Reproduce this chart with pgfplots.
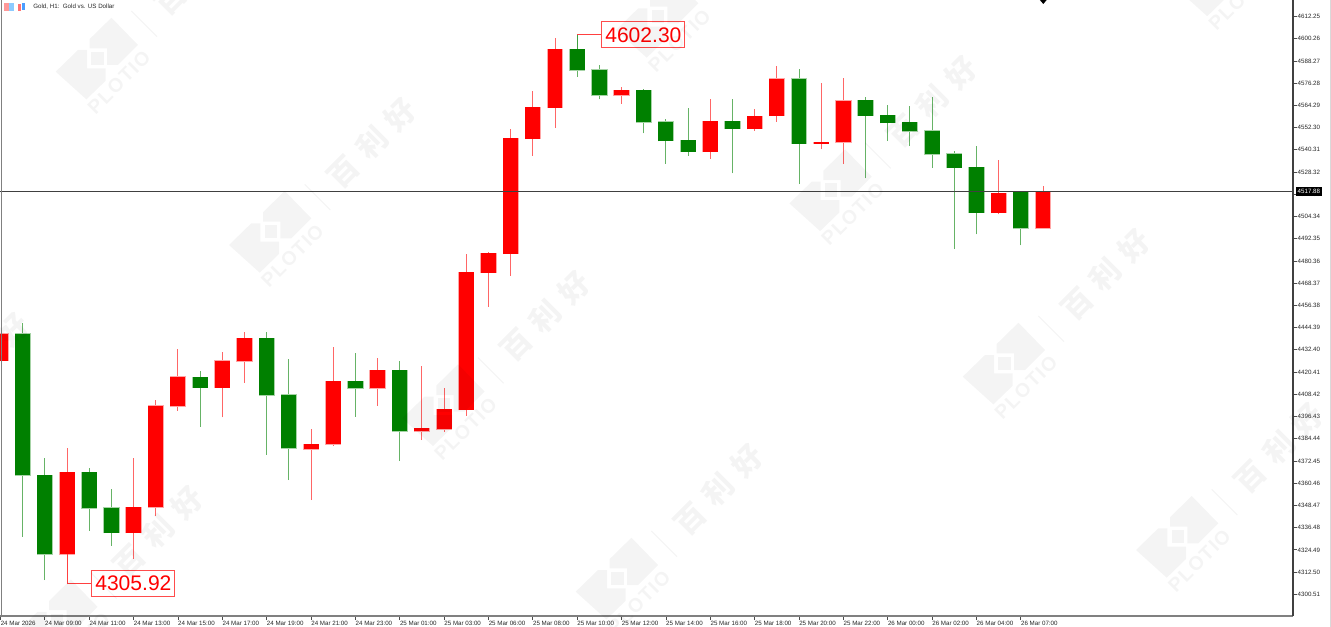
\documentclass[border=0pt]{standalone}
\usepackage{fontspec}
\usepackage{pgfplots}
\usepackage{pgfplotstable}
\pgfplotsset{compat=1.18}
\setmainfont{Liberation Sans}
\newfontfamily\cjk{Noto Sans CJK SC}
\newfontfamily\wmfont[LetterSpace=7]{Liberation Sans}

\definecolor{upc}{RGB}{255,0,0}
\definecolor{dnc}{RGB}{0,128,0}
\definecolor{wmline}{RGB}{64,64,64}

% hourly candles, x = bar number, columns = body top, body bottom, high, low
\pgfplotstableread{
i top bot high low
-1 4441.12 4426.55 4441.12 4426.55
2 4366.34 4322.11 4379.29 4305.92
5 4347.62 4333.60 4374.22 4319.73
6 4402.27 4347.46 4405.35 4342.93
7 4417.92 4401.95 4432.86 4399.58
9 4426.55 4411.99 4431.08 4396.02
10 4438.64 4426.23 4441.87 4414.68
13 4381.61 4378.75 4389.97 4351.40
14 4415.60 4381.45 4433.78 4380.69
16 4421.37 4411.66 4427.85 4402.27
18 4390.08 4388.46 4423.53 4383.77
19 4400.33 4389.54 4411.66 4388.25
20 4474.41 4399.95 4484.12 4396.88
21 4484.49 4474.03 4485.20 4455.69
22 4546.70 4484.12 4551.55 4472.25
23 4563.42 4546.16 4572.06 4537.15
24 4594.71 4563.05 4600.81 4552.09
27 4572.43 4569.74 4574.05 4565.20
31 4555.87 4539.15 4567.58 4535.53
33 4558.57 4551.55 4562.34 4550.64
34 4578.69 4558.57 4585.54 4555.49
36 4544.38 4543.62 4576.21 4540.60
37 4566.82 4544.38 4579.07 4532.67
44 4517.03 4506.24 4534.83 4505.54
46 4517.88 4497.98 4520.80 4497.98
}\upbars
\pgfplotstableread{
i top bot high low
0 4441.12 4364.73 4446.73 4331.60
1 4364.73 4322.11 4374.22 4308.24
3 4366.34 4346.92 4368.66 4334.84
4 4347.25 4333.60 4357.33 4326.74
8 4417.60 4411.99 4421.00 4390.95
11 4438.64 4407.89 4442.20 4375.84
12 4408.21 4379.29 4427.63 4362.19
15 4415.60 4411.66 4430.71 4396.34
17 4421.37 4388.46 4426.55 4372.44
25 4594.71 4583.22 4602.30 4579.61
26 4583.55 4569.74 4586.08 4567.58
28 4572.43 4555.17 4573.13 4549.23
29 4555.49 4545.08 4556.79 4532.83
30 4545.46 4539.15 4563.05 4536.99
32 4555.87 4551.55 4567.58 4527.65
35 4578.69 4543.73 4583.76 4521.88
38 4567.20 4558.57 4568.66 4524.96
39 4558.95 4554.79 4564.50 4545.08
40 4555.17 4550.31 4563.96 4542.38
41 4550.64 4537.91 4568.98 4530.51
42 4538.23 4530.51 4539.52 4486.81
43 4530.89 4506.24 4542.22 4494.75
45 4517.40 4497.98 4517.94 4488.81
}\dnbars

% wick, pale rim, body
\newcommand\candles[2]{%
  \addplot[draw=none,no markers,forget plot,error bars/.cd,y dir=plus,y explicit,error mark=none,
    error bar style={draw=#2!60,line width=0.75pt}]
    table[x=i,y=low,y error expr=\thisrow{high}-\thisrow{low}] {#1};
  \addplot[draw=none,no markers,forget plot,error bars/.cd,y dir=plus,y explicit,error mark=none,
    error bar style={draw=#2!35,line width=12.2pt}]
    table[x=i,y expr=\thisrow{bot}-0.25,y error expr=\thisrow{top}-\thisrow{bot}+0.5] {#1};
  \addplot[draw=none,no markers,forget plot,error bars/.cd,y dir=plus,y explicit,error mark=none,
    error bar style={draw=#2,line width=11.2pt}]
    table[x=i,y=bot,y error expr=\thisrow{top}-\thisrow{bot}] {#1};
}

% watermark, #1 #2 = left corner of the logo in pixels
\newcommand\wm[2]{%
  \begin{scope}[shift={(#1,#2)},opacity=0.045]
    \fill (0,0)--(22.3,-21.7)--(31.3,-21.7)--(31.3,-3.3)--(50,-3.3)--(50,9)--(30.7,27.7)--cycle;
    \fill (55.7,-54)--(82.3,-26.7)--(62.3,-6.7)--(51.3,-6.7)--(51.3,-23.3)--(34,-23.3)--(34,-32.7)--cycle;
    \fill (35.7,-20) rectangle (48,-6.7);
    \draw[line width=0.75pt] (75.7,-60.7)--(101.3,-35);
    \node[rotate=45,inner sep=0] at (63.3,10.7) {\fontsize{14.6}{15}\wmfont\bfseries PLOTIO};
    \node[rotate=45,inner sep=0] at (142.7,-101.7) {\fontsize{22.5}{23}\cjk\bfseries 百\kern8pt 利\kern8pt 好};
  \end{scope}%
}

\begin{document}
\begin{tikzpicture}
\useasboundingbox (0,0) rectangle (998.25pt,-470.25pt);
\begin{axis}[
  at={(0pt,-462pt)},anchor=south west,
  scale only axis,width=969.75pt,height=462pt,
  xmin=-1.0234,xmax=57.272,ymin=4288.82,ymax=4621.15,
  axis x line=bottom,axis y line=right,
  x axis line style={-,draw=black!50,line width=1pt},
  y axis line style={-,draw=black!75,line width=1pt},
  tick style={black!70,line width=0.6pt},
  major tick length=3pt,tick align=outside,
  xtick={-1,1,...,45},
  xticklabels={24 Mar 2026,24 Mar 09:00,24 Mar 11:00,24 Mar 13:00,24 Mar 15:00,24 Mar 17:00,24 Mar 19:00,24 Mar 21:00,24 Mar 23:00,25 Mar 01:00,25 Mar 03:00,25 Mar 06:00,25 Mar 08:00,25 Mar 10:00,25 Mar 12:00,25 Mar 14:00,25 Mar 16:00,25 Mar 18:00,25 Mar 20:00,25 Mar 22:00,26 Mar 00:00,26 Mar 02:00,26 Mar 04:00,26 Mar 07:00},
  xticklabel style={anchor=north west,inner sep=0pt,yshift=-0.3pt,font=\fontsize{4.65}{5}\selectfont,text=black!85},
  ytick={4300.51,4312.50,4324.49,4336.48,4348.47,4360.46,4372.45,4384.44,4396.43,4408.42,4420.41,4432.40,4444.39,4456.38,4468.37,4480.36,4492.35,4504.34,4516.33,4528.32,4540.31,4552.30,4564.29,4576.28,4588.27,4600.26,4612.25},
  yticklabel style={anchor=west,inner sep=0pt,xshift=0.3pt,font=\fontsize{4.65}{5}\selectfont,text=black!85,
    /pgf/number format/.cd,fixed,fixed zerofill,precision=2,1000 sep={},assume math mode=true},
]
\candles{\upbars}{upc}
\candles{\dnbars}{dnc}
\addplot[wmline,line width=0.8pt,forget plot] coordinates {(-1.0234,4517.88) (57.272,4517.88)};

\draw[upc!75,line width=0.75pt] (axis cs:2,4322.11) |- (axis cs:3.066,4306.46);
\draw[dnc!75,line width=0.75pt] (axis cs:25,4594.71) -- (axis cs:25,4602.30);
\draw[upc!75,line width=0.75pt] (axis cs:25,4602.30) -- (axis cs:26.06,4602.30);
\node[draw=upc!70,fill=white,text=upc,anchor=west,inner sep=0pt,minimum width=62.25pt,minimum height=19.5pt,line width=0.75pt,font=\fontsize{15.8}{16}\selectfont]
  at (axis cs:3.066,4306.46) {\hspace*{1pt}4305.92};
\node[draw=upc!70,fill=white,text=upc,anchor=west,inner sep=0pt,minimum width=62.25pt,minimum height=19.5pt,line width=0.75pt,font=\fontsize{15.8}{16}\selectfont]
  at (axis cs:26.06,4602.30) {\hspace*{1pt}4602.30};
\end{axis}

\begin{scope}[x=0.75pt,y=-0.75pt]
  % chart frame bits outside the axis
  \draw[black!50,line width=0.75pt] (1,0)--(1,616);
  \draw[black!15,line width=0.75pt] (1330.4,0)--(1330.4,627);
  \fill[black] (1039,-1)--(1047.5,-1)--(1043.3,4)--cycle;
  % price tag
  \fill[black] (1295.7,187) rectangle (1322,195.6);
  \node[text=white,inner sep=0,font=\fontsize{4.65}{5}\selectfont] at (1308.9,191.4) {4517.88};
  % chart title and its two small icons
  \fill[red!40] (4,3.5) rectangle (9,11);
  \fill[blue!45!cyan!45] (9,3.5) rectangle (14,11);
  \fill[red!55] (18,4) rectangle (21,11);
  \fill[blue!55!cyan!70] (21.5,3.5) rectangle (24.5,10.5);
  \node[anchor=west,inner sep=0,text=black!85,font=\fontsize{4.65}{5}\selectfont] at (33,7) {Gold, H1:\ \ Gold vs. US Dollar};
  % PLOTIO watermarks
  \wm{55.7}{71.7}\wm{229}{245}\wm{402.3}{418.3}\wm{575.7}{591.7}
  \wm{616}{30}\wm{789.4}{203.4}\wm{962.7}{376.7}\wm{1136}{550}
  \wm{1176.5}{-11.5}
  \wm{-158}{460}\wm{15.2}{633.5}
\end{scope}
\end{tikzpicture}
\end{document}
